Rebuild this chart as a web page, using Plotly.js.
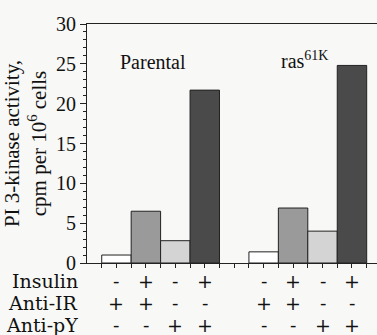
<!DOCTYPE html>
<html>
<head>
<meta charset="utf-8">
<script src="https://cdn.plot.ly/plotly-3.0.1.min.js"></script>
<style>html,body{margin:0;padding:0;background:#f8f8f6;}#chart{width:377px;height:335px;}</style>
</head>
<body>
<div id="chart"></div>
<script>
// ---- data ----
var groups = ['Parental', 'ras<sup>61K</sup>'];
var parental = [1.0, 6.5, 2.8, 21.7];
var ras61K = [1.4, 6.9, 4.0, 24.8];
var insulin = ['-', '+', '-', '+'];
var antiIR = ['+', '+', '-', '-'];
var antiPY = ['-', '-', '+', '+'];
var rowLabels = ['Insulin', 'Anti-IR', 'Anti-pY'];
var yTicks = [0, 5, 10, 15, 20, 25, 30];

// ---- styling ----
var barColors = ['#ffffff', '#9a9a9a', '#d4d4d4', '#4a4a4a'];
var groupStart = [1, 6];
var serif = '"Liberation Serif", "Times New Roman", serif';
var rowFont = '"DejaVu Serif", serif';

var traces = [];
for (var c = 0; c < 4; c++) {
  traces.push({
    type: 'bar',
    x: [groupStart[0] + c, groupStart[1] + c],
    y: [parental[c], ras61K[c]],
    width: 1,
    marker: {color: barColors[c], line: {color: '#222', width: 1}},
    hoverinfo: 'none',
    showlegend: false
  });
}

var xt = [];
for (var t = 0.5; t <= 9.6; t += 0.5) xt.push(t);

var annotations = [
  {x: 2.25, y: 25.2, xref: 'x', yref: 'y', xanchor: 'center', yanchor: 'middle', text: groups[0], showarrow: false,
   font: {family: serif, size: 20, color: '#111'}},
  {x: 7.38, y: 25.5, xref: 'x', yref: 'y', xanchor: 'center', yanchor: 'middle', text: groups[1], showarrow: false,
   font: {family: serif, size: 20, color: '#111'}}
];
var rows = [insulin, antiIR, antiPY];
var rowY = [-0.075, -0.167, -0.258];
for (var r = 0; r < 3; r++) {
  annotations.push({x: -0.025, y: rowY[r], xref: 'paper', yref: 'paper', xanchor: 'right', yanchor: 'middle',
    text: rowLabels[r], showarrow: false, font: {family: rowFont, size: 19, color: '#111'}});
  for (var g = 0; g < 2; g++) {
    for (var k = 0; k < 4; k++) {
      annotations.push({x: groupStart[g] + k, y: rowY[r], xref: 'x', yref: 'paper', xanchor: 'center', yanchor: 'middle',
        text: rows[r][k], showarrow: false, font: {family: rowFont, size: 19, color: '#111'}});
    }
  }
}

var layout = {
  width: 377, height: 335,
  margin: {l: 87, r: 0, t: 24, b: 72},
  paper_bgcolor: '#f8f8f6', plot_bgcolor: '#f8f8f6',
  barmode: 'overlay',
  xaxis: {range: [0, 9.85], showline: true, linecolor: '#222', linewidth: 1, mirror: true,
    ticks: 'outside', ticklen: 4, tickcolor: '#222', tickvals: xt, showticklabels: false,
    showgrid: false, zeroline: false, fixedrange: true},
  yaxis: {range: [0, 30], tickvals: yTicks, ticks: 'outside', ticklen: 6, tickcolor: '#222',
    minor: {dtick: 1, ticklen: 3, ticks: 'outside', tickcolor: '#222', showgrid: false},
    showline: true, linecolor: '#222', linewidth: 1, showgrid: false, zeroline: false,
    tickfont: {family: serif, size: 20, color: '#111'},
    title: {text: 'PI 3-kinase activity,<br>cpm per 10<sup>6</sup> cells', standoff: 6,
      font: {family: serif, size: 21, color: '#111'}}},
  annotations: annotations
};

Plotly.newPlot('chart', traces, layout, {staticPlot: true, displayModeBar: false});
</script>
</body>
</html>
